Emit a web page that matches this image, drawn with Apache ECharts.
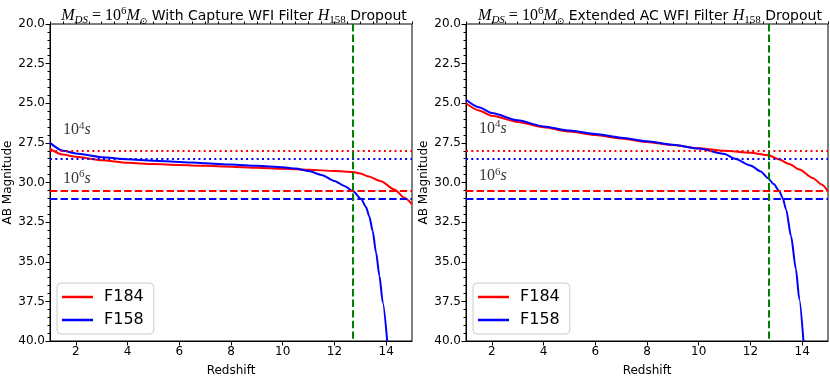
<!DOCTYPE html>
<html lang="en">
<head>
    <meta charset="UTF-8">
    <title>Dropout magnitudes</title>
    <script src="https://cdn.jsdelivr.net/npm/echarts@6/dist/echarts.min.js"></script>
    <style>
        html, body, #main {
            padding: 0px;
            margin: 0px;
            width: 830px;
            height: 382px;
            background: #fff;
        }
    </style>
</head>
<body>
    <div id="main"></div>
    <script type="text/javascript">
        // values
        // left panel: with capture
        const zLeftF184 = [1, 1.5, 2, 3, 4, 5, 6, 7, 8, 9, 10, 11, 12, 12.72, 13.0, 13.29, 13.8, 14.32, 14.71, 15];
        const magLeftF184 = [27.88, 28.24, 28.38, 28.6, 28.76, 28.84, 28.9, 28.95, 29.0, 29.07, 29.14, 29.2, 29.27, 29.33, 29.43, 29.6, 29.92, 30.44, 30.97, 31.38];
        const zLeftF158 = [1, 1.5, 2, 3, 4, 5, 6, 7, 8, 9, 10, 10.5, 11, 11.5, 12, 12.4, 12.72, 13.03, 13.22, 13.35, 13.48, 13.61, 13.74, 13.87, 14.04];
        const magLeftF158 = [27.5, 27.99, 28.17, 28.4, 28.53, 28.62, 28.7, 28.79, 28.87, 28.95, 29.04, 29.12, 29.28, 29.52, 29.9, 30.23, 30.55, 31.03, 31.55, 32.15, 33.06, 34.42, 35.89, 37.57, 40.0];
        // right panel: extended AC
        const zRightF184 = [1, 1.5, 2, 3, 4, 5, 6, 7, 8, 9, 10, 11, 12, 12.7, 13.12, 13.5, 13.89, 14.41, 14.75, 15];
        const magRightF184 = [25.0, 25.45, 25.79, 26.18, 26.52, 26.78, 27.0, 27.22, 27.44, 27.64, 27.84, 27.99, 28.13, 28.28, 28.55, 28.84, 29.18, 29.71, 30.12, 30.55];
        const zRightF158 = [1, 1.5, 2, 3, 4, 5, 6, 7, 8, 9, 10, 11, 11.4, 12, 12.4, 12.67, 12.9, 13.12, 13.25, 13.38, 13.57, 13.76, 13.89, 14.05];
        const magRightF158 = [24.78, 25.25, 25.62, 26.08, 26.46, 26.72, 26.94, 27.17, 27.4, 27.62, 27.86, 28.2, 28.5, 28.92, 29.3, 29.71, 30.1, 30.55, 31.0, 31.7, 33.38, 35.47, 37.36, 40.0];

        // detection limits (10^4 s dotted, 10^6 s dashed) and dropout redshift
        const limit1e4F184 = 28.0, limit1e4F158 = 28.5;
        const limit1e6F184 = 30.55, limit1e6F158 = 31.05;
        const dropoutZ = 12.7;

        const xTicks = [2, 4, 6, 8, 10, 12, 14];
        const label1e4Pos = [[1.5, 26.7], [1.5, 26.6]];
        const label1e6Pos = [[1.5, 29.75], [1.5, 29.6]];
        const panelTitles = ['With Capture', 'Extended AC'];

        const RED = '#ff0000', BLUE = '#0000ff', GREEN = '#008000';
        const dotted = [2, 3.3], dashed = [7.4, 3.2];

        function zip(xs, ys) { return xs.map((x, i) => [x, ys[i]]); }

        let chart = echarts.init(document.getElementById('main'));

        const grids = [
            { left: 50, top: 24, width: 362, height: 318 },
            { left: 466, top: 24, width: 362, height: 318 }
        ];

        let xAxes = [], yAxes = [], series = [], titles = [], legends = [];
        const base = { color: '#000', fontWeight: 'normal' };
        const mathRich = {
            t: Object.assign({ fontFamily: 'DejaVu Sans', fontSize: 14, lineHeight: 20 }, base),
            mi: Object.assign({ fontFamily: 'Liberation Serif', fontStyle: 'italic', fontSize: 16, lineHeight: 20 }, base),
            n: Object.assign({ fontFamily: 'Liberation Serif', fontSize: 16, lineHeight: 20 }, base),
            sub: Object.assign({ fontFamily: 'Liberation Serif', fontStyle: 'italic', fontSize: 11, lineHeight: 11, verticalAlign: 'bottom' }, base),
            subn: Object.assign({ fontFamily: 'Liberation Serif', fontSize: 11, lineHeight: 11, verticalAlign: 'bottom' }, base),
            sym: Object.assign({ fontFamily: 'DejaVu Sans', fontSize: 9, lineHeight: 11, verticalAlign: 'bottom' }, base),
            sup: Object.assign({ fontFamily: 'Liberation Serif', fontSize: 11, lineHeight: 11, verticalAlign: 'top' }, base)
        };
        const noteRich = {
            n: Object.assign({ fontFamily: 'Liberation Serif', fontSize: 16, lineHeight: 20 }, base),
            sup: Object.assign({ fontFamily: 'Liberation Serif', fontSize: 11, lineHeight: 10, verticalAlign: 'top' }, base),
            s: Object.assign({ fontFamily: 'Liberation Serif', fontStyle: 'italic', fontSize: 16, lineHeight: 20 }, base)
        };

        const panels = [
            { f184: zip(zLeftF184, magLeftF184), f158: zip(zLeftF158, magLeftF158) },
            { f184: zip(zRightF184, magRightF184), f158: zip(zRightF158, magRightF158) }
        ];

        panels.forEach((p, i) => {
            // main x axis with labelled ticks
            xAxes.push({
                type: 'value', gridIndex: i, min: 1, max: 15,
                name: 'Redshift', nameLocation: 'middle', nameGap: 24,
                nameTextStyle: { fontFamily: 'DejaVu Sans', fontSize: 12, color: '#000' },
                axisLine: { onZero: false, lineStyle: { color: '#000', width: 1 } },
                axisTick: { customValues: xTicks, length: 4.5, lineStyle: { color: '#000' } },
                axisLabel: { customValues: xTicks, fontFamily: 'DejaVu Sans', fontSize: 12, color: '#000', margin: 5 },
                splitLine: { show: false }
            });
            // minor ticks
            xAxes.push({
                type: 'value', gridIndex: i, min: 1, max: 15, interval: 0.5,
                axisLine: { show: false },
                axisTick: { length: 2.5, lineStyle: { color: '#000' } },
                axisLabel: { show: false },
                splitLine: { show: false }
            });
            yAxes.push({
                type: 'value', gridIndex: i, min: 20, max: 40, interval: 2.5, inverse: true,
                name: 'AB Magnitude', nameLocation: 'middle', nameGap: 36,
                nameTextStyle: { fontFamily: 'DejaVu Sans', fontSize: 12, color: '#000' },
                axisLine: { show: true, onZero: false, lineStyle: { color: '#000' } },
                axisTick: { length: 4.5, lineStyle: { color: '#000' } },
                minorTick: { show: true, splitNumber: 5, length: 2.5, lineStyle: { color: '#000' } },
                axisLabel: { fontFamily: 'DejaVu Sans', fontSize: 12, color: '#000', margin: 5, formatter: v => v.toFixed(1) },
                splitLine: { show: false }
            });

            const cx = grids[i].left + grids[i].width / 2 - 2;
            titles.push({
                text: '{mi|M}{sub|DS}{n| = 10}{sup|6}{mi|M}{sym|⊙}{t| ' + panelTitles[i] + ' WFI Filter }{mi|H}{subn|158}{t| Dropout}',
                left: cx, top: 1, textAlign: 'center',
                textStyle: { fontWeight: 'normal', rich: mathRich }
            });

            legends.push({
                data: ['F184', 'F158'],
                orient: 'vertical',
                left: grids[i].left + 7, top: 283,
                icon: 'rect', itemWidth: 31, itemHeight: 2.5, itemGap: 7,
                padding: [6, 10, 6, 5],
                borderColor: '#cccccc', borderWidth: 1, borderRadius: 4,
                backgroundColor: 'rgba(255,255,255,0.8)',
                selectedMode: false,
                textStyle: { fontFamily: 'DejaVu Sans', fontSize: 16, color: '#000', padding: [0, 0, 0, 6] }
            });

            series.push({
                name: 'F184', type: 'line', xAxisIndex: 2 * i, yAxisIndex: i,
                data: p.f184, showSymbol: false, smooth: 0.25, smoothMonotone: 'x',
                color: RED, lineStyle: { color: RED, width: 2 }, z: 3,
                markLine: {
                    silent: true, symbol: 'none', label: { show: false },
                    data: [
                        { yAxis: limit1e4F184, lineStyle: { color: RED, width: 2, type: dotted } },
                        { yAxis: limit1e6F184, lineStyle: { color: RED, width: 2, type: dashed } }
                    ]
                }
            });
            series.push({
                name: 'F158', type: 'line', xAxisIndex: 2 * i, yAxisIndex: i,
                data: p.f158, showSymbol: false, smooth: 0.25, smoothMonotone: 'x',
                color: BLUE, lineStyle: { color: BLUE, width: 2 }, z: 3,
                markLine: {
                    silent: true, symbol: 'none', label: { show: false },
                    data: [
                        { yAxis: limit1e4F158, lineStyle: { color: BLUE, width: 2, type: dotted } },
                        { yAxis: limit1e6F158, lineStyle: { color: BLUE, width: 2, type: dashed } },
                        { xAxis: dropoutZ, lineStyle: { color: GREEN, width: 2, type: dashed } }
                    ]
                }
            });
            // exposure-time notes
            series.push({
                type: 'scatter', xAxisIndex: 2 * i, yAxisIndex: i, symbolSize: 0, silent: true,
                data: [
                    { value: label1e4Pos[i], label: { formatter: '{n|10}{sup|4}{s|s}' } },
                    { value: label1e6Pos[i], label: { formatter: '{n|10}{sup|6}{s|s}' } }
                ],
                label: { show: true, position: 'right', distance: 0, color: '#000', rich: noteRich }
            });
        });

        let option = {
            animation: false,
            backgroundColor: '#fff',
            title: titles,
            legend: legends,
            grid: grids.map(g => Object.assign({ show: true, borderColor: '#000', borderWidth: 1, backgroundColor: 'transparent' }, g)),
            xAxis: xAxes,
            yAxis: yAxes,
            series: series
        };
        chart.setOption(option);
    </script>
</body>
</html>
